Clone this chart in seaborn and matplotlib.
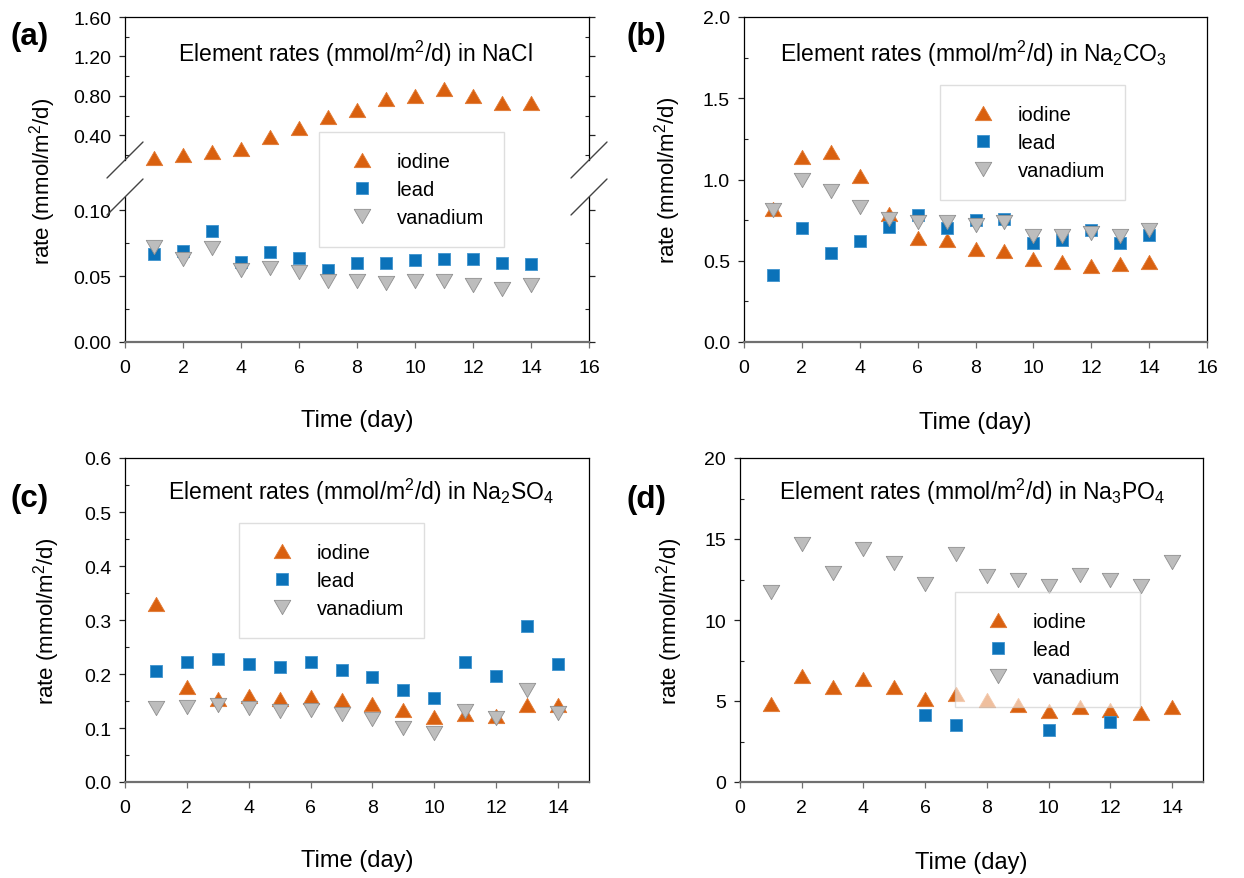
import numpy as np
import pandas as pd
import matplotlib
matplotlib.use("Agg")
import matplotlib.pyplot as plt
import seaborn as sns
from matplotlib.lines import Line2D
from matplotlib.path import Path
from matplotlib.markers import MarkerStyle
from matplotlib.ticker import MultipleLocator, FormatStrFormatter, FixedLocator

# ---------------- data ----------------
days = list(range(1, 15))
elements = ["iodine", "lead", "vanadium"]

nacl_iodine = [0.17, 0.20, 0.23, 0.26, 0.38, 0.47, 0.59, 0.66, 0.77, 0.80, 0.87, 0.80, 0.73, 0.73]
nacl_lead = [0.067, 0.069, 0.084, 0.061, 0.068, 0.064, 0.055, 0.060, 0.060, 0.062, 0.063, 0.063, 0.060, 0.059]
nacl_vanadium = [0.072, 0.063, 0.071, 0.055, 0.056, 0.053, 0.046, 0.046, 0.045, 0.046, 0.046, 0.043, 0.040, 0.043]

carb_iodine = [0.82, 1.14, 1.17, 1.02, 0.79, 0.64, 0.63, 0.57, 0.56, 0.51, 0.49, 0.47, 0.48, 0.49]
carb_lead = [0.41, 0.70, 0.55, 0.62, 0.71, 0.78, 0.70, 0.75, 0.76, 0.61, 0.63, 0.69, 0.61, 0.66]
carb_vanadium = [0.81, 1.00, 0.93, 0.83, 0.76, 0.74, 0.74, 0.72, 0.74, 0.65, 0.65, 0.67, 0.65, 0.69]

sulf_iodine = [0.330, 0.176, 0.154, 0.160, 0.154, 0.158, 0.151, 0.145, 0.133, 0.120, 0.126, 0.123, 0.142, 0.142]
sulf_lead = [0.205, 0.222, 0.228, 0.219, 0.213, 0.222, 0.207, 0.194, 0.171, 0.155, 0.222, 0.197, 0.289, 0.218]
sulf_vanadium = [0.137, 0.138, 0.142, 0.137, 0.131, 0.134, 0.126, 0.116, 0.100, 0.091, 0.131, 0.119, 0.171, 0.128]

phos_iodine = [4.83, 6.54, 5.86, 6.33, 5.84, 5.14, 5.45, 5.04, 4.73, 4.40, 4.62, 4.42, 4.28, 4.60]
phos_lead = [np.nan, np.nan, np.nan, np.nan, np.nan, 4.15, 3.54, np.nan, np.nan, 3.19, np.nan, 3.70, np.nan, np.nan]
phos_vanadium = [11.7, 14.7, 12.9, 14.4, 13.5, 12.2, 14.1, 12.7, 12.5, 12.1, 12.8, 12.5, 12.1, 13.6]

titles = ["Element rates (mmol/m$^2$/d) in NaCl",
          "Element rates (mmol/m$^2$/d) in Na$_2$CO$_3$",
          "Element rates (mmol/m$^2$/d) in Na$_2$SO$_4$",
          "Element rates (mmol/m$^2$/d) in Na$_3$PO$_4$"]
panel_labels = ["(a)", "(b)", "(c)", "(d)"]
ylabel = "rate (mmol/m$^2$/d)"
xlabel = "Time (day)"


def frame(iod, lead, van):
    return pd.DataFrame({
        "day": days * 3,
        "rate": list(iod) + list(lead) + list(van),
        "element": ["iodine"] * 14 + ["lead"] * 14 + ["vanadium"] * 14,
    })


df_a = frame(nacl_iodine, nacl_lead, nacl_vanadium)
df_b = frame(carb_iodine, carb_lead, carb_vanadium)
df_c = frame(sulf_iodine, sulf_lead, sulf_vanadium)
df_d = frame(phos_iodine, phos_lead, phos_vanadium)

# ---------------- style ----------------
sns.set_style("ticks")
plt.rcParams["font.family"] = ["Liberation Sans", "DejaVu Sans"]
plt.rcParams["mathtext.fontset"] = "custom"
plt.rcParams["mathtext.rm"] = "Liberation Sans"
plt.rcParams["mathtext.it"] = "Liberation Sans:italic"
plt.rcParams["mathtext.bf"] = "Liberation Sans:bold"
for k in ["text.color", "axes.labelcolor", "xtick.labelcolor", "ytick.labelcolor"]:
    plt.rcParams[k] = "black"

tri_up = MarkerStyle(Path([(0, 0.866), (-1, -0.866), (1, -0.866), (0, 0.866)], closed=True))
tri_dn = MarkerStyle(Path([(0, -0.866), (-1, 0.866), (1, 0.866), (0, -0.866)], closed=True))
sq = MarkerStyle("s")

st = {
    "iodine": dict(marker=tri_up, s=141, color="#D9600F", edgecolor="#E27A34", ms=11.9),
    "lead": dict(marker=sq, s=76, color="#0B72B9", edgecolor="#3F93CE", ms=8.7),
    "vanadium": dict(marker=tri_dn, s=141, color="#BDBDBD", edgecolor="#8F8F8F", ms=11.9),
}

W, H = 1244, 879
fig = plt.figure(figsize=(W / 100, H / 100), dpi=100)
fig.patch.set_facecolor("white")

XL_FS = 17
YL_FS = 16
TITLE_FS = 16.5


def rect(x0, x1, y0, y1):
    return [x0 / W, 1 - y1 / H, (x1 - x0) / W, (y1 - y0) / H]


def style_axes(ax):
    for s in ["left", "right", "top"]:
        ax.spines[s].set_color("black")
        ax.spines[s].set_linewidth(0.9)
    ax.spines["bottom"].set_color("#707070")
    ax.spines["bottom"].set_linewidth(1.6)
    ax.tick_params(axis="both", which="major", direction="out", length=4,
                   width=0.9, labelsize=14, color="#222222", labelcolor="black")
    ax.tick_params(axis="x", which="major", pad=8, color="#707070")
    ax.tick_params(axis="y", which="major", pad=6)
    ax.tick_params(axis="y", which="minor", direction="in", length=3, width=0.8,
                   color="#222222")
    ax.set_xlabel("")
    ax.set_ylabel("")


def scatter(ax, df, els, clip=True):
    for e in els:
        sub = df[df["element"] == e]
        d = st[e]
        sns.scatterplot(data=sub, x="day", y="rate", marker=d["marker"], s=d["s"],
                        color=d["color"], edgecolor=d["edgecolor"], linewidth=0.6,
                        ax=ax, legend=False, clip_on=clip, zorder=3)


def add_legend(x0, y0):
    handles = [Line2D([], [], linestyle="none", marker=st[e]["marker"],
                      markersize=st[e]["ms"], markerfacecolor=st[e]["color"],
                      markeredgecolor=st[e]["edgecolor"], markeredgewidth=0.6)
               for e in elements]
    leg = fig.legend(handles, elements, loc="upper left",
                     bbox_to_anchor=(x0 / W, 1 - y0 / H), bbox_transform=fig.transFigure,
                     borderaxespad=0, frameon=True, fancybox=False, edgecolor="#C8C8C8",
                     framealpha=0.6, fontsize=14.5, borderpad=1.0, labelspacing=0.44,
                     handlelength=2.3, handletextpad=0.55, labelcolor="black")
    leg.get_frame().set_linewidth(1.0)
    leg.set_zorder(10)
    return leg


def xaxis_setup(ax, xmax, xticks):
    ax.set_xlim(0, xmax)
    ax.xaxis.set_major_locator(FixedLocator(xticks))


# ---------------- (a) broken axis ----------------
ax_au = fig.add_axes(rect(125, 589, 18, 161))
ax_al = fig.add_axes(rect(125, 589, 198, 343))
scatter(ax_au, df_a, ["iodine"], clip=False)
scatter(ax_al, df_a, ["lead", "vanadium"])
for ax in (ax_au, ax_al):
    style_axes(ax)
    xaxis_setup(ax, 16, list(range(0, 17, 2)))
    ax.tick_params(axis="y", which="both", right=True, labelright=False)
ax_au.set_ylim(0.15, 1.6)
ax_au.yaxis.set_major_locator(FixedLocator([0.4, 0.8, 1.2, 1.6]))
ax_au.yaxis.set_minor_locator(FixedLocator([0.2, 0.6, 1.0, 1.4]))
ax_au.yaxis.set_major_formatter(FormatStrFormatter("%.2f"))
ax_au.spines["bottom"].set_visible(False)
ax_au.tick_params(axis="x", which="both", bottom=False, labelbottom=False)
ax_al.set_ylim(0, 0.11)
ax_al.yaxis.set_major_locator(FixedLocator([0.0, 0.05, 0.10]))
ax_al.yaxis.set_minor_locator(FixedLocator([0.025, 0.075]))
ax_al.yaxis.set_major_formatter(FormatStrFormatter("%.2f"))
ax_al.spines["top"].set_visible(False)
ax_al.set_xlabel(xlabel, fontsize=XL_FS, color="black")
ax_al.xaxis.set_label_coords(0.5, -(421 - 343) / 145)
ax_al.xaxis.label.set_va("center")

# break marks
for cx in (125, 589):
    for cy in (161, 198):
        fig.add_artist(Line2D([(cx - 18) / W, (cx + 18) / W],
                              [1 - (cy + 18) / H, 1 - (cy - 18) / H],
                              transform=fig.transFigure, color="#444444", lw=1.0))

fig.text(43 / W, 1 - 181 / H, ylabel, rotation=90, ha="center", va="center",
         fontsize=YL_FS, color="black")

# ---------------- (b) (c) (d) ----------------
panels = [
    (df_b, rect(744, 1207, 18, 343), 16, list(range(0, 17, 2)), (0, 2.0), 0.5, 0.25, "%.1f", -0.166, -(423 - 343) / 325),
    (df_c, rect(125, 589, 459, 783), 15, list(range(0, 15, 2)), (0, 0.6), 0.1, 0.05, "%.1f", -0.168, -(861 - 783) / 324),
    (df_d, rect(740, 1203, 459, 783), 15, list(range(0, 15, 2)), (0, 20), 5, 2.5, "%d", -0.153, -(863 - 783) / 324),
]
for df, r, xmax, xt, yl, maj, mnr, fmt, ylx, xly in panels:
    ax = fig.add_axes(r)
    scatter(ax, df, elements)
    style_axes(ax)
    xaxis_setup(ax, xmax, xt)
    ax.set_ylim(*yl)
    ax.yaxis.set_major_locator(MultipleLocator(maj))
    ax.yaxis.set_minor_locator(MultipleLocator(mnr))
    ax.yaxis.set_major_formatter(FormatStrFormatter(fmt))
    ax.set_xlabel(xlabel, fontsize=XL_FS, color="black")
    ax.xaxis.set_label_coords(0.5, xly)
    ax.xaxis.label.set_va("center")
    ax.set_ylabel(ylabel, fontsize=YL_FS, color="black")
    ax.yaxis.set_label_coords(ylx, 0.5)
    ax.yaxis.label.set_va("center")

# titles and panel labels
title_pos = [(355, 62), (974, 62), (361, 500), (972, 500)]
for t, (x, y) in zip(titles, title_pos):
    fig.text(x / W, 1 - y / H, t, ha="center", va="baseline", fontsize=TITLE_FS, color="black")
label_pos = [(11, 37), (626, 37), (11, 499), (626, 500)]
for t, (x, y) in zip(panel_labels, label_pos):
    fig.text(x / W, 1 - y / H, t, ha="left", va="center", fontsize=22.5,
             fontweight="bold", color="black")

# legends
add_legend(319, 133)
add_legend(940, 86)
add_legend(239, 524)
add_legend(955, 593)

fig.savefig("out.png", dpi=100, facecolor="white")
